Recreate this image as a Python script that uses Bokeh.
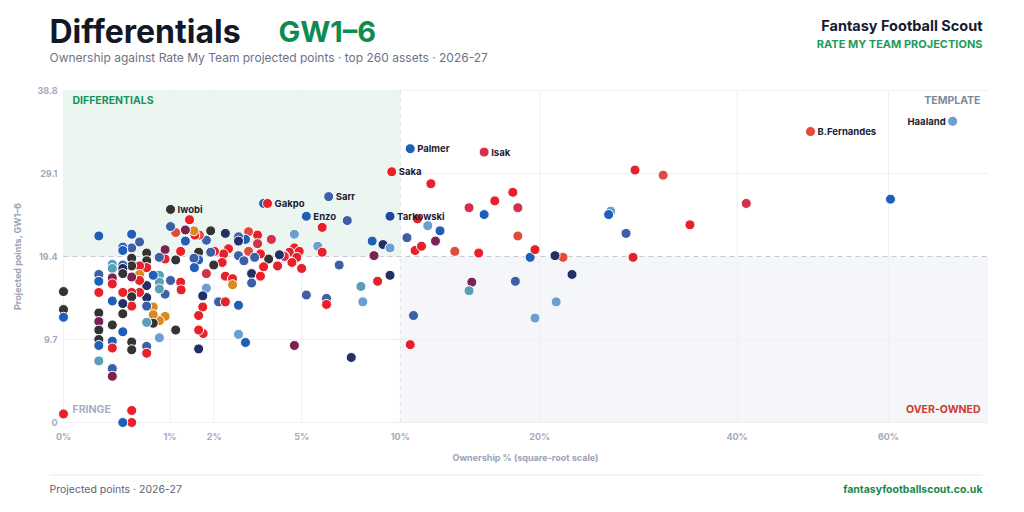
import math
from bokeh.plotting import figure
from bokeh.models import Range1d, Label, BoxAnnotation, ColumnDataSource
from bokeh.embed import file_html
from bokeh.resources import INLINE
from bokeh.core.properties import value

# ---------------- data ----------------
team_colours = {
    "R": "#e8202a", "RO": "#e04b3a", "CR": "#d3304c", "NV": "#233066",
    "BL": "#1f5fb8", "DB": "#1f47a0", "SB": "#3c5fa6", "LB": "#6c9fcf",
    "TE": "#5a9fb8", "DK": "#333333", "MR": "#7b2250", "OR": "#d88a20",
}

# labelled players
label_names = ["Haaland", "B.Fernandes", "Palmer", "Isak", "Saka", "Sarr",
               "Tarkowski", "Iwobi", "Gakpo", "Enzo"]
label_own = [69.7, 49.2, 10.6, 15.6, 9.5, 6.2, 9.4, 1.01, 3.67, 5.2]
label_pts = [35.2, 34.0, 32.0, 31.6, 29.3, 26.4, 24.1, 24.9, 25.6, 24.1]
label_team = ["LB", "RO", "BL", "CR", "R", "SB", "DB", "DK", "R", "BL"]
label_side = ["left", "right", "right", "right", "right", "right", "right",
              "right", "right", "right"]

# every other asset: ownership %, projected points, team colour key
own = [
    60.3, 41.1, 34.6, 28.8, 31.7, 26.4, 26.2, 27.9, 28.6, 22.0, 22.8, 21.3,
    19.2, 19.6, 18.2, 15.2, 13.5, 12.2, 10.9, 11.3, 10.4, 12.5, 11.7, 11.05,
    15.6, 14.5, 18.2, 16.4, 17.8, 11.9, 3.53, 21.4, 19.6, 18.0, 14.7, 14.5,
    10.8, 10.6, 9.4, 8.7, 7.8, 7.9, 6.7, 7.1, 9.0, 9.4, 8.4, 8.5,
    7.3, 4.7, 2.92, 2.70, 2.70, 5.2, 6.1, 6.1, 5.9, 5.7, 5.9, 5.0,
    4.7, 4.7, 4.5, 4.9, 4.3, 4.8, 4.6, 4.3, 4.04, 4.11, 3.71, 3.53,
    3.81, 3.32, 3.32, 3.02, 3.02, 3.42, 3.22, 3.12, 3.12, 3.42, 2.92, 2.70,
    2.70, 2.70, 2.87, 2.31, 2.40, 2.26, 2.22, 2.31, 2.52, 2.52, 2.12, 2.31,
    2.01, 1.99, 1.91, 1.91, 1.80, 1.80, 1.80, 1.71, 1.71, 1.72, 1.61, 1.61,
    1.61, 1.61, 1.61, 1.50, 1.51, 1.63, 1.52, 1.50, 1.40, 1.31, 1.31, 1.11,
    1.01, 1.21, 1.21, 1.22, 1.11, 1.11, 1.01, 0.91, 0.91, 0.91, 0.91, 0.81,
    0.81, 0.81, 0.81, 0.81, 0.81, 0.71, 0.71, 0.71, 0.71, 0.61, 0.61, 0.61,
    0.61, 0.61, 0.61, 0.61, 0.61, 0.61, 0.51, 0.51, 0.51, 0.51, 0.51, 0.41,
    0.41, 0.41, 0.41, 0.41, 0.41, 0.41, 0.41, 0.41, 0.41, 0.41, 0.41, 0.31,
    0.31, 0.31, 0.31, 0.31, 0.31, 0.31, 0.31, 0.31, 0.31, 0.21, 0.21, 0.21,
    0.21, 0.21, 0.21, 0.21, 0.21, 0.21, 0.21, 0.11, 0.11, 0.11, 0.11, 0.11,
    0.11, 0.11, 0.11, 0.11, 0.11, 0.0, 0.0, 0.0, 0.0,
]
pts = [
    26.1, 25.6, 23.1, 29.5, 28.9, 24.7, 24.3, 22.1, 19.3, 19.3, 17.3, 19.5,
    19.3, 20.2, 21.8, 19.8, 20.0, 21.2, 20.1, 20.6, 21.6, 22.4, 23.0, 23.8,
    24.3, 25.1, 25.1, 25.9, 26.9, 27.9, 25.6, 14.1, 12.2, 16.5, 16.4, 15.4,
    12.5, 9.1, 17.2, 16.5, 15.9, 14.1, 18.4, 23.6, 20.8, 20.4, 21.2, 19.5,
    7.6, 9.0, 9.35, 10.3, 13.7, 14.9, 14.5, 13.8, 22.8, 20.6, 19.9, 18.0,
    22.0, 20.4, 19.9, 20.0, 19.5, 19.3, 18.7, 19.4, 18.3, 19.6, 19.1, 18.2,
    21.4, 21.9, 20.9, 22.3, 20.0, 19.7, 19.3, 17.4, 16.3, 17.1, 21.4, 21.7,
    21.2, 19.5, 18.9, 22.1, 20.3, 19.7, 18.7, 17.1, 16.8, 16.1, 14.1, 14.1,
    20.0, 18.4, 22.4, 19.9, 21.3, 17.4, 15.7, 14.8, 13.5, 10.4, 12.5, 10.8,
    8.6, 19.9, 19.0, 19.2, 18.1, 21.9, 21.9, 22.4, 23.7, 22.5, 21.2, 22.2,
    22.9, 20.0, 16.4, 15.5, 19.0, 10.8, 16.6, 20.2, 19.1, 15.0, 12.4, 19.3,
    17.2, 16.4, 15.6, 11.9, 9.9, 17.2, 13.5, 12.6, 11.6, 19.8, 18.9, 18.1,
    16.0, 14.6, 13.6, 11.7, 8.9, 8.1, 21.1, 18.3, 17.3, 16.6, 15.2, 22.0,
    20.4, 19.2, 18.3, 17.0, 15.2, 14.7, 13.6, 9.4, 8.5, 1.4, 0.0, 20.5,
    20.1, 18.4, 18.0, 17.4, 15.2, 13.9, 12.7, 10.6, 0.0, 18.5, 18.0, 16.9,
    16.2, 14.2, 11.4, 9.5, 8.7, 6.3, 5.4, 21.8, 17.3, 16.5, 15.2, 12.8,
    11.8, 10.8, 9.7, 9.0, 7.2, 15.3, 13.2, 12.3, 1.0,
]
team = [
    "BL", "CR", "R", "R", "RO", "LB", "BL", "SB", "R", "RO", "NV", "NV",
    "BL", "R", "RO", "R", "RO", "MR", "R", "R", "SB", "BL", "LB", "R",
    "BL", "CR", "CR", "R", "R", "R", "BL", "LB", "LB", "SB", "MR", "TE",
    "SB", "R", "NV", "R", "TE", "LB", "SB", "SB", "NV", "LB", "BL", "MR",
    "NV", "MR", "BL", "LB", "BL", "SB", "SB", "R", "R", "LB", "R", "R",
    "LB", "R", "R", "R", "R", "R", "R", "CR", "R", "NV", "DK", "R",
    "CR", "R", "CR", "RO", "RO", "R", "SB", "NV", "SB", "R", "BL", "SB",
    "NV", "SB", "SB", "NV", "R", "R", "R", "R", "R", "OR", "SB", "R",
    "R", "DK", "DK", "SB", "SB", "CR", "LB", "NV", "R", "R", "R", "R",
    "NV", "DK", "BL", "SB", "BL", "RO", "R", "OR", "R", "MR", "BL", "RO",
    "SB", "R", "R", "R", "DK", "DK", "SB", "MR", "R", "SB", "OR", "SB",
    "TE", "TE", "TE", "OR", "LB", "BL", "OR", "OR", "DK", "DK", "DK", "R",
    "NV", "NV", "SB", "TE", "SB", "R", "SB", "R", "OR", "R", "R", "BL",
    "SB", "DK", "DK", "MR", "R", "DK", "R", "DK", "DK", "R", "R", "SB",
    "BL", "SB", "NV", "DK", "R", "NV", "DK", "BL", "BL", "TE", "TE", "MR",
    "R", "BL", "DK", "BL", "R", "SB", "MR", "BL", "SB", "BL", "R", "DK",
    "MR", "DK", "DK", "BL", "TE", "DK", "DK", "BL", "R",
]

x_ticks = [0, 1, 2, 5, 10, 20, 40, 60]
y_ticks = [0, 9.7, 19.4, 29.1, 38.8]
own_split = 10.0
pts_split = 19.4
own_max = 75.4

# ---------------- layout / styles ----------------
FONT = "Inter"
GREEN = "#169457"
GRID = "#eef0f4"
TICK = "#a3abbd"
W, H = 1000, 496
ORIGIN_X, ORIGIN_Y = 0, 0        # picture position of the figure's top-left
PX_PER_SQRT = 106.5              # pixels per sqrt(%) unit
PX_PER_PT = 8.557                # pixels per projected point
ZERO_X, ZERO_Y = 63, 422         # picture position of the (0%, 0 pts) corner

x_start = -(ZERO_X - ORIGIN_X) / PX_PER_SQRT
y_start = -((ORIGIN_Y + H) - ZERO_Y) / PX_PER_PT

p = figure(width=W, height=H, output_backend="svg", toolbar_location=None,
           x_range=Range1d(x_start, x_start + W / PX_PER_SQRT),
           y_range=Range1d(y_start, y_start + H / PX_PER_PT),
           x_axis_type=None, y_axis_type=None, min_border=0)
p.title = None
p.outline_line_color = None
p.xgrid.grid_line_color = None
p.ygrid.grid_line_color = None


def sx(px):
    return px - ORIGIN_X


def sy(py):
    return ORIGIN_Y + H - py


def put(text, x, y, size, color, bold=True, align="left", x_units="screen",
        y_units="screen", angle=0.0, baseline="middle"):
    p.add_layout(Label(x=x, y=y, x_units=x_units, y_units=y_units, text=text,
                       text_font=FONT, text_font_size=size,
                       text_font_style="bold" if bold else "normal",
                       text_color=color, text_align=align, angle=angle,
                       text_baseline=baseline))


xs_max = math.sqrt(own_max)
y_top = max(y_ticks)
xs_split = math.sqrt(own_split)

# quadrant shading
p.quad(left=[0], right=[xs_split], bottom=[pts_split], top=[y_top],
       fill_color="#ecf6f1", line_color=None)
p.quad(left=[xs_split], right=[xs_max], bottom=[0], top=[pts_split],
       fill_color="#f5f6f9", line_color=None)

# grid
gx = [math.sqrt(t) for t in x_ticks if t != own_split]
p.segment(x0=gx, y0=[0] * len(gx), x1=gx, y1=[y_top] * len(gx),
          line_color=GRID, line_width=1)
gy = [t for t in y_ticks if t != pts_split]
p.segment(x0=[0] * len(gy), y0=gy, x1=[xs_max] * len(gy), y1=gy,
          line_color=GRID, line_width=1)
p.segment(x0=[xs_split], y0=[0], x1=[xs_split], y1=[y_top],
          line_color="#dde1e8", line_width=1, line_dash="4 4")
p.segment(x0=[0], y0=[pts_split], x1=[xs_max], y1=[pts_split],
          line_color="#c3c9d6", line_width=1, line_dash="5 4")

# points
src = ColumnDataSource(dict(
    x=[math.sqrt(v) for v in own], y=pts, c=[team_colours[t] for t in team]))
p.scatter("x", "y", source=src, size=10, fill_color="c", line_color="white",
          line_width=1)
lsrc = ColumnDataSource(dict(
    x=[math.sqrt(v) for v in label_own], y=label_pts,
    c=[team_colours[t] for t in label_team]))
p.scatter("x", "y", source=lsrc, size=10, fill_color="c", line_color="white",
          line_width=1)

for side in ("left", "right"):
    idx = [i for i, s in enumerate(label_side) if s == side]
    p.text(x=[math.sqrt(label_own[i]) for i in idx],
           y=[label_pts[i] for i in idx],
           text=[label_names[i] for i in idx],
           x_offset=-7 if side == "left" else 7,
           text_align="right" if side == "left" else "left",
           text_baseline="middle", text_font=value(FONT),
           text_font_style="bold", text_font_size="9.5px",
           text_color="#1b2233")

# axes (tick labels placed through the data scales)
for t in x_ticks:
    put(f"{t}%", math.sqrt(t), sy(436), "9px", TICK, align="center",
        x_units="data")
for t in y_ticks:
    put("0" if t == 0 else f"{t:.1f}", sx(57), t, "9px", TICK, align="right",
        y_units="data")
put("Ownership % (square-root scale)", sx(525), sy(457), "9px", "#9aa3b5",
    align="center")
put("Projected points, GW1–6", sx(17), pts_split, "9px", "#9aa3b5",
    align="center", y_units="data", angle=math.pi / 2)

# quadrant labels
put("DIFFERENTIALS", sx(72), sy(100), "10.5px", GREEN)
put("TEMPLATE", sx(980), sy(100), "10.5px", "#7e889b", align="right")
put("FRINGE", sx(72), sy(409), "10.5px", "#a7afbf")
put("OVER-OWNED", sx(980), sy(409), "10.5px", "#cc3b2d", align="right")

# header
put("Differentials", sx(49), sy(31), "32px", "#121826")
put("GW1–6", sx(278), sy(31), "29px", "#0f8a50")
put("Ownership against Rate My Team projected points · top 260 assets · 2026-27",
    sx(49), sy(57), "12px", "#6b7386", bold=False)
put("Fantasy Football Scout", sx(982), sy(25), "14.5px", "#151b2d",
    align="right")
put("RATE MY TEAM PROJECTIONS", sx(982), sy(43), "11px", "#1f9a5a",
    align="right")

# footer
p.add_layout(BoxAnnotation(left=sx(49), right=sx(982), bottom=sy(475),
                           top=sy(474), left_units="screen",
                           right_units="screen", bottom_units="screen",
                           top_units="screen", fill_color="#e6e9ef",
                           fill_alpha=1, line_color=None))
put("Projected points · 2026-27", sx(49), sy(489), "10.5px", "#5b6476",
    bold=False)
put("fantasyfootballscout.co.uk", sx(982), sy(489), "10.5px", "#178a4c",
    align="right")

open("out.html", "w").write(file_html(p, INLINE))
